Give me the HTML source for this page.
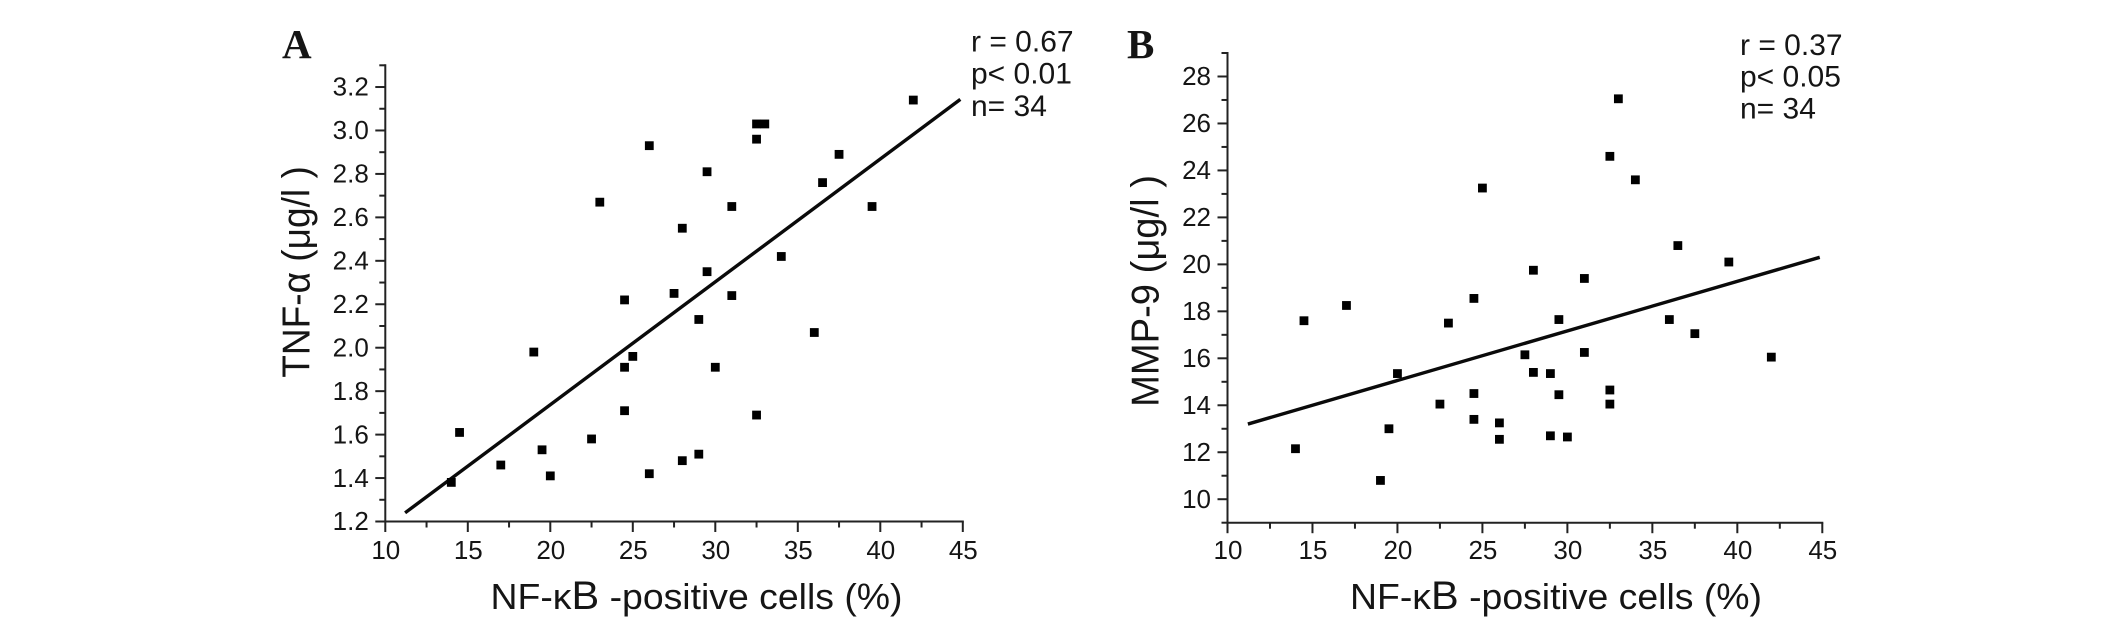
<!DOCTYPE html>
<html>
<head>
<meta charset="utf-8">
<title>NF-κB correlation scatter plots</title>
<style>
html,body{margin:0;padding:0;background:#fff;}
body{width:2126px;height:623px;overflow:hidden;}
svg{display:block;}
text{font-family:"Liberation Sans",sans-serif;fill:#151515;}
.letter{font-family:"Liberation Serif",serif;font-weight:bold;font-size:41px;}
</style>
</head>
<body>
<svg id="figure" width="2126" height="623" viewBox="0 0 2126 623" xmlns="http://www.w3.org/2000/svg">
  <text class="letter" x="282" y="58">A</text>
  <text class="letter" x="1127" y="58">B</text>
  <text x="971" y="51.7" font-size="30">r = 0.67</text>
  <text x="971" y="83.5" font-size="30">p&lt; 0.01</text>
  <text x="971" y="116" font-size="30">n= 34</text>
  <text x="1740" y="55" font-size="30">r = 0.37</text>
  <text x="1740" y="86.5" font-size="30">p&lt; 0.05</text>
  <text x="1740" y="118.5" font-size="30">n= 34</text>
  <text x="696.5" y="609" font-size="36" textLength="412" lengthAdjust="spacingAndGlyphs" text-anchor="middle">NF-κ<tspan font-size="40">B</tspan> -positive cells (%)</text>
  <text x="1556" y="609" font-size="36" textLength="412" lengthAdjust="spacingAndGlyphs" text-anchor="middle">NF-κ<tspan font-size="40">B</tspan> -positive cells (%)</text>
  <text transform="translate(309.5,272) rotate(-90) scale(1.03,1.09)" font-size="36" text-anchor="middle">TNF-α (μg/l )</text>
  <text transform="translate(1158.5,291) rotate(-90) scale(1.06,1.08)" font-size="36" text-anchor="middle">MMP-9 (μg/l )</text>
  <g id="panel-a"></g>
  <g id="panel-b"></g>
</svg>
<script>
const cellPercent = [14,14.5,17,19,19.5,20,22.5,23,24.5,24.5,24.5,25,26,26,27.5,28,28,29,29,29.5,29.5,30,31,31,32.5,32.5,32.5,33,34,36,36.5,37.5,39.5,42];
const tnfValues = [1.38,1.61,1.46,1.98,1.53,1.41,1.58,2.67,2.22,1.91,1.71,1.96,2.93,1.42,2.25,2.55,1.48,2.13,1.51,2.81,2.35,1.91,2.65,2.24,3.03,2.96,1.69,3.03,2.42,2.07,2.76,2.89,2.65,3.14];
const mmpValues = [12.15,17.6,18.25,10.8,13,15.35,14.05,17.5,18.55,14.5,13.4,23.25,13.25,12.55,16.15,19.75,15.4,15.35,12.7,17.65,14.45,12.65,19.4,16.25,24.6,14.65,14.05,27.05,23.6,17.65,20.8,17.05,20.1,16.05];
const xTickLabels = ["10","15","20","25","30","35","40","45"];
const tnfTickLabels = ["1.2","1.4","1.6","1.8","2.0","2.2","2.4","2.6","2.8","3.0","3.2"];
const mmpTickLabels = ["10","12","14","16","18","20","22","24","26","28"];
const fitX = [11.2,44.85];
const tnfFit = [1.24,3.143];
const mmpFit = [13.2,20.3];

const NS = 'http://www.w3.org/2000/svg';
function mk(parent, tag, attrs, text) {
  const el = document.createElementNS(NS, tag);
  for (const k in attrs) el.setAttribute(k, attrs[k]);
  if (text !== undefined) el.textContent = text;
  parent.appendChild(el);
  return el;
}
function drawPanel(id, ys, fitY, yLabels, yMin, yMax, yMinorStep, box) {
  const g = document.getElementById(id);
  const sx = v => box.left + (v - 10) / 35 * (box.right - box.left);
  const sy = v => box.bottom - (v - yMin) / (yMax - yMin) * (box.bottom - box.top);
  const xAxis = mk(g, 'line', {x1:sx(10) - 1, x2:sx(45) + 1, y1:box.bottom, y2:box.bottom, stroke:'#222', 'stroke-width':2});
  
  
  const yAxis = mk(g, 'line', {x1:box.left, x2:box.left, y1:box.top - 1, y2:box.bottom + 1, stroke:'#222', 'stroke-width':2});
  
  
  for (let i = 0; i < 15; i++) {
    const v = 10 + i * 2.5;
    const major = i % 2 === 0;
    const t = mk(g, 'line', {x1:sx(v), x2:sx(v), y1:box.bottom, y2:box.bottom + (major ? 10.5 : 6), stroke:'#222', 'stroke-width':2});
    
    
  }
  xTickLabels.forEach(lab => {
    const t = mk(g, 'text', {x:sx(+lab) + 0.5, y:559, 'font-size':26, 'text-anchor':'middle'}, lab);
    
    
  });
  for (let v = yMin, i = 0; v <= yMax + 1e-6; i++, v = yMin + i * yMinorStep) {
    const major = yLabels.some(l => Math.abs(+l - v) < 1e-6);
    const t = mk(g, 'line', {x1:box.left - (major ? 10 : 6), x2:box.left, y1:sy(v), y2:sy(v), stroke:'#222', 'stroke-width':2});
    
    
  }
  yLabels.forEach(lab => {
    const t = mk(g, 'text', {x:box.left - 16.5, y:sy(+lab) + 8.7, 'font-size':26, 'text-anchor':'end'}, lab);
    
    
  });
  const fit = mk(g, 'line', {x1:sx(fitX[0]), y1:sy(fitY[0]), x2:sx(fitX[1]), y2:sy(fitY[1]), stroke:'#0a0a0a', 'stroke-width':3.4});
  
  
  cellPercent.forEach((x, i) => {
    const p = mk(g, 'rect', {x:sx(x) - 4.4, y:sy(ys[i]) - 4.4, width:8.8, height:8.8, fill:'#000'});
    
    
  });
}
drawPanel('panel-a', tnfValues, tnfFit, tnfTickLabels, 1.2, 3.3, 0.1, {left:385.3, right:962.8, top:65.3, bottom:521.5});
drawPanel('panel-b', mmpValues, mmpFit, mmpTickLabels, 9, 29, 1, {left:1227.5, right:1822.3, top:53, bottom:522.7});
</script>
</body>
</html>
